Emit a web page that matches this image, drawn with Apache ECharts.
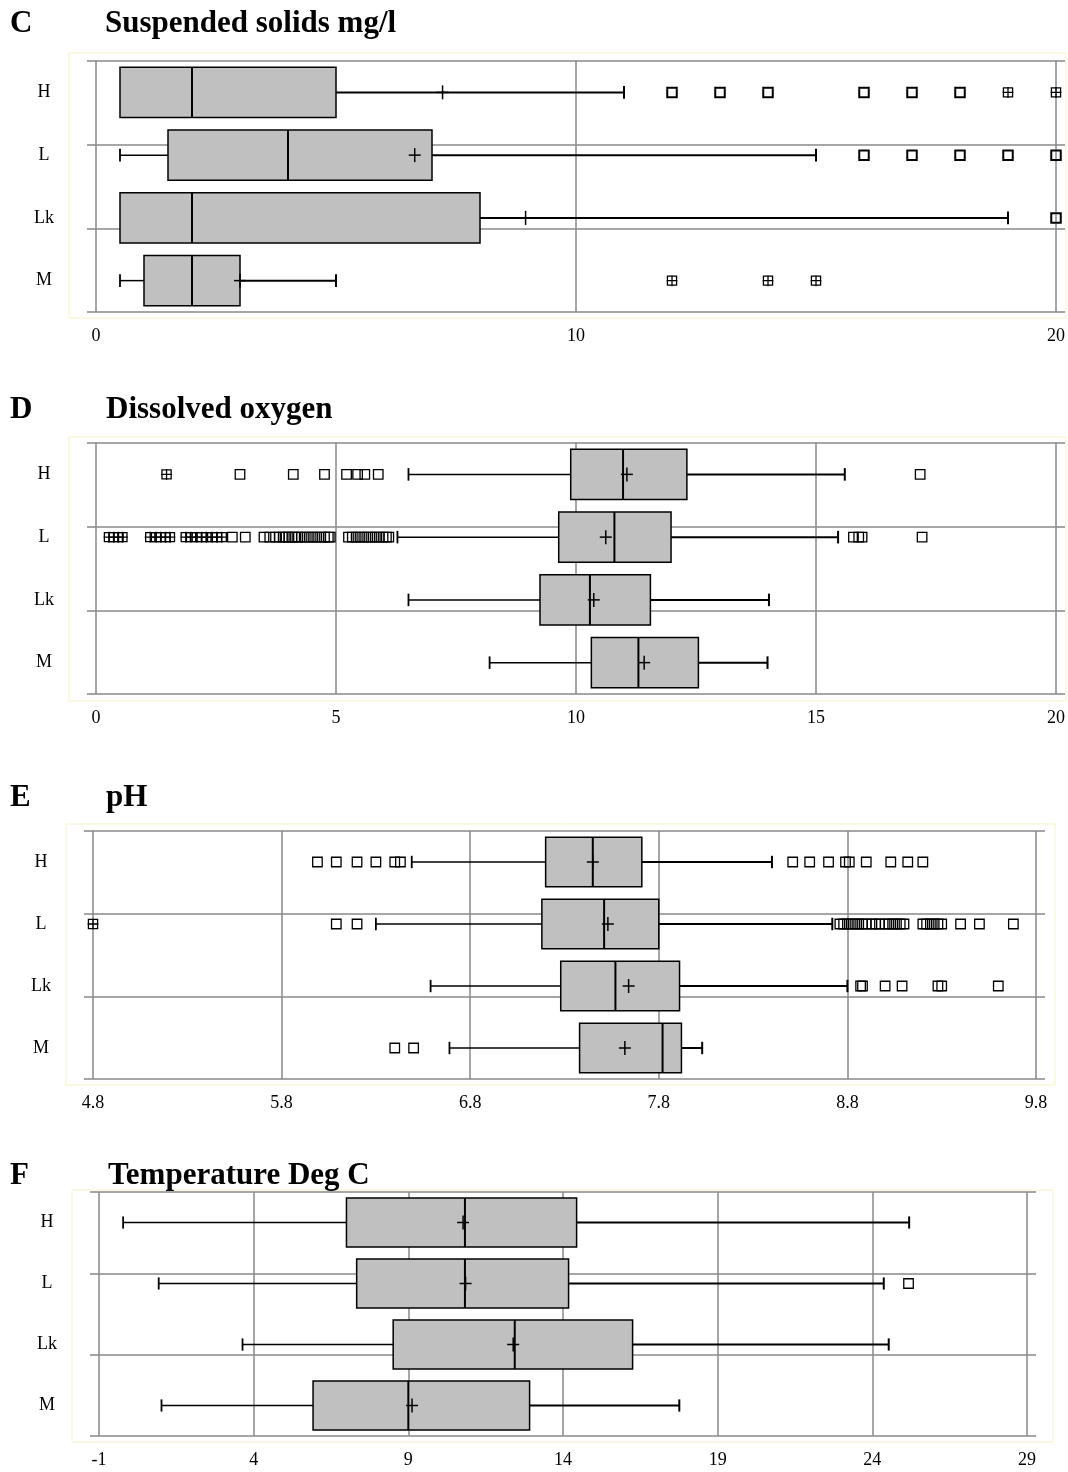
<!DOCTYPE html>
<html>
<head>
<meta charset="utf-8">
<title>Box plots C-F</title>
<script src="https://cdn.jsdelivr.net/npm/echarts@6.0.0/dist/echarts.min.js"></script>
<style>
  html, body { margin: 0; padding: 0; background: #fff; }
  #main { width: 1068px; height: 1472px; }
</style>
</head>
<body>
<div id="main"></div>
<script>
var sites = ['H', 'L', 'Lk', 'M'];

// C - suspended solids: [min, q1, median, q3, max] per site
var ssTicks = [0, 10, 20];
var ssBox = [[0.5, 0.5, 2, 5, 11], [0.5, 1.5, 4, 7, 15], [0.5, 0.5, 2, 8, 19], [0.5, 1, 2, 3, 5]];
var ssMean = [7.22, 6.64, 8.95, 3.0];
var ssOut = [[12, 13, 14, 16, 17, 18], [16, 17, 18, 19, 20], [20], []];
var ssFar = [[19, 20], [], [], [12, 14, 15]];

// D - dissolved oxygen
var doTicks = [0, 5, 10, 15, 20];
var doBox = [[6.51, 9.89, 10.98, 12.31, 15.6], [6.28, 9.64, 10.8, 11.98, 15.46], [6.51, 9.25, 10.29, 11.55, 14.02], [8.2, 10.32, 11.3, 12.55, 13.99]];
var doMean = [11.06, 10.62, 10.37, 11.42];
var doOut = [
  [3.0, 4.11, 4.76, 5.22, 5.45, 5.6, 5.88, 17.17],
  [2.84, 3.11, 3.5, 3.62, 3.74, 3.82, 3.9, 3.96, 4.02, 4.08, 4.14, 4.2, 4.28, 4.36, 4.44, 4.52, 4.6, 4.68, 4.76, 4.84, 4.88,
   5.26, 5.34, 5.42, 5.5, 5.58, 5.66, 5.74, 5.82, 5.9, 5.98, 6.05, 6.1, 15.78, 15.89, 15.96, 17.21],
  [], []
];
var doFar = [
  [1.47],
  [0.27, 0.37, 0.47, 0.55, 1.13, 1.25, 1.35, 1.45, 1.54, 1.87, 1.98, 2.1, 2.2, 2.3, 2.42, 2.52, 2.62],
  [], []
];

// E - pH
var phTicks = [4.8, 5.8, 6.8, 7.8, 8.8, 9.8];
var phBox = [[6.49, 7.2, 7.45, 7.71, 8.4], [6.3, 7.18, 7.51, 7.8, 8.72], [6.59, 7.28, 7.57, 7.91, 8.8], [6.69, 7.38, 7.82, 7.92, 8.03]];
var phMean = [7.45, 7.53, 7.64, 7.62];
var phOut = [
  [5.99, 6.09, 6.2, 6.3, 6.4, 6.43, 8.51, 8.6, 8.7, 8.79, 8.81, 8.9, 9.03, 9.12, 9.2],
  [6.09, 6.2, 8.76, 8.78, 8.8, 8.82, 8.84, 8.86, 8.88, 8.9, 8.93, 8.95, 8.97, 9.0, 9.02, 9.04, 9.06, 9.08, 9.1,
   9.2, 9.22, 9.24, 9.26, 9.28, 9.3, 9.4, 9.5, 9.68],
  [8.87, 8.88, 9.0, 9.09, 9.28, 9.3, 9.6],
  [6.4, 6.5]
];
var phFar = [[], [4.8], [], []];

// F - temperature
var tTicks = [-1, 4, 9, 14, 19, 24, 29];
var tBox = [[-0.22, 7.0, 10.83, 14.44, 25.19], [0.93, 7.33, 10.83, 14.18, 24.37], [3.64, 8.51, 12.44, 16.25, 24.53], [1.02, 5.92, 9.0, 12.92, 17.76]];
var tMean = [10.77, 10.85, 12.39, 9.12];
var tOut = [[], [25.17], [], []];
var tFar = [[], [], [], []];

var FONT = '"Liberation Serif", "Times New Roman", serif';
var GRID = '#888888';
var FRAME = '#f7f2c8';

var panels = [
  { letter: 'C', title: 'Suspended solids mg/l', ticks: ssTicks, box: ssBox, mean: ssMean, out: ssOut, far: ssFar,
    left: 96, width: 960, top: 61, height: 251, titleY: 24, titleX: 105, frame: [69, 53, 997, 265], mk: 2 },
  { letter: 'D', title: 'Dissolved oxygen', ticks: doTicks, box: doBox, mean: doMean, out: doOut, far: doFar,
    left: 96, width: 960, top: 443, height: 251, titleY: 410, titleX: 106, frame: [69, 437, 997, 264], mk: 1.3 },
  { letter: 'E', title: 'pH', ticks: phTicks, box: phBox, mean: phMean, out: phOut, far: phFar,
    left: 93, width: 943, top: 831, height: 248, titleY: 798, titleX: 106, frame: [66, 824, 989, 261], mk: 1.3 },
  { letter: 'F', title: 'Temperature Deg C', ticks: tTicks, box: tBox, mean: tMean, out: tOut, far: tFar,
    left: 99, width: 928, top: 1192, height: 244, titleY: 1176, titleX: 108, frame: [72, 1190, 981, 252], mk: 1.3 }
];

function boxItem(params, api) {
  var k = api.value(0);
  var at = function (d) { return api.coord([api.value(d), k]); };
  var lo = at(1), q1 = at(2), md = at(3), q3 = at(4), hi = at(5), mn = at(6);
  var cy = lo[1];
  var band = api.size([0, 1])[1];
  var h = band * 0.8, c = band * 0.1;
  function seg(x1, y1, x2, y2, w) {
    return { type: 'line', shape: { x1: x1, y1: y1, x2: x2, y2: y2 }, style: { stroke: '#000', lineWidth: w } };
  }
  var kids = [];
  if (lo[0] < q1[0] - 0.5) {
    kids.push(seg(lo[0], cy, q1[0], cy, 1.5));
    kids.push(seg(lo[0], cy - c, lo[0], cy + c, 1.8));
  }
  if (hi[0] > q3[0] + 0.5) {
    kids.push(seg(q3[0], cy, hi[0], cy, 2));
    kids.push(seg(hi[0], cy - c, hi[0], cy + c, 2));
  }
  kids.push({ type: 'rect', shape: { x: q1[0], y: cy - h / 2, width: q3[0] - q1[0], height: h },
    style: { fill: '#c0c0c0', stroke: '#000', lineWidth: 1.5 } });
  kids.push(seg(md[0], cy - h / 2, md[0], cy + h / 2, 2));
  kids.push(seg(mn[0] - 6, cy, mn[0] + 6, cy, 1.5));
  kids.push(seg(mn[0], cy - 7, mn[0], cy + 7, 1.5));
  return { type: 'group', children: kids };
}

function points(lists) {
  var res = [];
  lists.forEach(function (vals, k) {
    vals.forEach(function (v) { res.push([v, k]); });
  });
  return res;
}

var grid = [], xAxis = [], yAxis = [], series = [], graphic = [];
var tickStyle = { color: GRID, width: 1.5 };

panels.forEach(function (p, i) {
  grid.push({ left: p.left, top: p.top, width: p.width, height: p.height, containLabel: false, outerBoundsMode: 'none' });
  xAxis.push({
    type: 'value', gridIndex: i,
    min: p.ticks[0], max: p.ticks[p.ticks.length - 1], interval: p.ticks[1] - p.ticks[0],
    axisLine: { show: false, onZero: false }, axisTick: { show: false },
    splitLine: { show: true, lineStyle: { color: GRID, width: 1.5 } },
    axisLabel: { color: '#000', fontFamily: FONT, fontSize: 18, margin: 15,
      formatter: function (v) { return String(Math.round(v * 10) / 10); } }
  });
  yAxis.push({
    type: 'category', gridIndex: i, data: sites, inverse: true,
    axisLine: { show: false, onZero: false }, axisTick: { show: false }, splitLine: { show: false },
    axisLabel: { align: 'center', margin: 52, color: '#000', fontFamily: FONT, fontSize: 18 }
  });
  yAxis.push({
    type: 'value', gridIndex: i, position: 'left', min: 0, max: 3, interval: 1,
    axisLine: { show: false, onZero: false }, axisLabel: { show: false },
    axisTick: { show: true, length: 9, lineStyle: tickStyle },
    splitLine: { show: true, lineStyle: { color: GRID, width: 1.5 } }
  });
  yAxis.push({
    type: 'value', gridIndex: i, position: 'right', min: 0, max: 3, interval: 1,
    axisLine: { show: false, onZero: false }, axisLabel: { show: false },
    axisTick: { show: true, length: 9, lineStyle: tickStyle },
    splitLine: { show: false }
  });

  series.push({
    type: 'custom', xAxisIndex: i, yAxisIndex: i * 3,
    data: p.box.map(function (b, k) { return [k].concat(b, [p.mean[k]]); }),
    encode: { x: [1, 2, 3, 4, 5, 6], y: 0 },
    renderItem: boxItem, silent: true, z: 3
  });
  series.push({
    type: 'scatter', xAxisIndex: i, yAxisIndex: i * 3, data: points(p.out),
    symbol: 'rect', symbolSize: 9.5, silent: true, z: 4,
    itemStyle: { color: 'rgba(0,0,0,0)', borderColor: '#000', borderWidth: p.mk, opacity: 1 }
  });
  series.push({
    type: 'scatter', xAxisIndex: i, yAxisIndex: i * 3, data: points(p.far),
    symbol: 'path://M1,1L11,1L11,11L1,11Z M6,0L6,12 M0,6L12,6', symbolSize: 11, silent: true, z: 4,
    itemStyle: { color: 'rgba(0,0,0,0)', borderColor: '#000', borderWidth: 1.3, opacity: 1 }
  });

  graphic.push({ type: 'rect', z: -1, silent: true,
    shape: { x: p.frame[0], y: p.frame[1], width: p.frame[2], height: p.frame[3] },
    style: { fill: 'none', stroke: FRAME, lineWidth: 1 } });
  graphic.push({ type: 'text', x: 10, y: p.titleY, silent: true,
    style: { text: p.letter, font: 'bold 31px ' + FONT, fill: '#000', verticalAlign: 'middle' } });
  graphic.push({ type: 'text', x: p.titleX, y: p.titleY, silent: true,
    style: { text: p.title, font: 'bold 31px ' + FONT, fill: '#000', verticalAlign: 'middle' } });
});

var chart = echarts.init(document.getElementById('main'));
chart.setOption({
  animation: false,
  backgroundColor: '#fff',
  grid: grid,
  xAxis: xAxis,
  yAxis: yAxis,
  series: series,
  graphic: graphic
});
</script>
</body>
</html>
